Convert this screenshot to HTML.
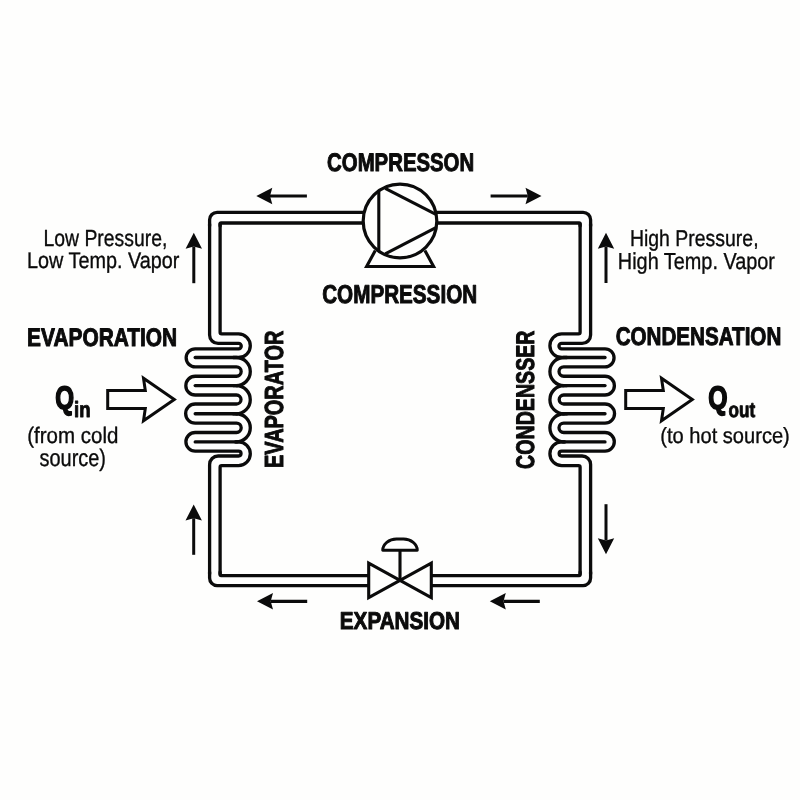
<!DOCTYPE html>
<html lang="en"><head><meta charset="utf-8"><title>Refrigeration cycle</title>
<style>
html,body{margin:0;padding:0;background:#fefefd;}
body{width:800px;height:800px;overflow:hidden;}
svg{display:block;will-change:transform;}
text{font-family:"Liberation Sans",sans-serif;fill:#0b0b0b;stroke:#0b0b0b;stroke-linejoin:round;text-rendering:geometricPrecision;}
.w{fill:none;stroke:#0b0b0b;stroke-width:3.3;stroke-linecap:round;stroke-linejoin:round;}
.m{fill:none;stroke:#0b0b0b;stroke-width:3.1;stroke-linecap:round;stroke-linejoin:miter;}
</style></head><body>
<svg width="800" height="800" viewBox="0 0 800 800">
<rect width="800" height="800" fill="#fefefd"/>

<g class="w">
<path d="M364 212.3 H217.1 A7.5 7.5 0 0 0 209.6 219.8 V226"/>
<path d="M364 223.0 H221.1 A1.0 1.0 0 0 0 220.1 224.0 V226"/>
<path d="M437 212.3 H583.1 A7.5 7.5 0 0 1 590.6 219.8 V226"/>
<path d="M437 223.0 H579.1 A1.0 1.0 0 0 1 580.1 224.0 V226"/>
<path d="M209.6 572 V578.1 A7.5 7.5 0 0 0 217.1 585.6 H368"/>
<path d="M220.1 572 V574.6 A1.0 1.0 0 0 0 221.1 575.6 H368"/>
<path d="M590.6 572 V578.1 A7.5 7.5 0 0 1 583.1 585.6 H432"/>
<path d="M580.1 572 V574.6 A1.0 1.0 0 0 1 579.1 575.6 H432"/>
</g>
<g class="w" id="evap">
<path d="M209.6 224 V334.95 A8.5 8.5 0 0 0 218.1 343.45 H238.6 A2.6750000000000114 2.6750000000000114 0 0 1 238.6 348.8 H195.2 A9.049999999999983 9.049999999999983 0 0 0 195.2 366.9 H236.5 A4.675000000000011 4.675000000000011 0 0 1 236.5 376.25 H195.2 A9.375 9.375 0 0 0 195.2 395.0 H236.5 A4.5 4.5 0 0 1 236.5 404.0 H195.2 A9.550000000000011 9.550000000000011 0 0 0 195.2 423.1 H236.5 A4.699999999999989 4.699999999999989 0 0 1 236.5 432.5 H195.2 A9.300000000000011 9.300000000000011 0 0 0 195.2 451.1 H238.6 A2.4499999999999886 2.4499999999999886 0 0 1 238.6 456.0 H218.1 A8.5 8.5 0 0 0 209.6 464.5 V574"/>
<path d="M220.1 224 V332.29999999999995 A1.6 1.6 0 0 0 221.7 333.9 H238.5 A11.800000000000011 11.800000000000011 0 0 1 238.5 357.5 "/>
<path d="M233.25 357.5 H236.25 A14.050000000000011 14.050000000000011 0 0 1 236.25 385.6"/>
<path d="M233.22500000000002 385.6 H236.22500000000002 A14.074999999999989 14.074999999999989 0 0 1 236.22500000000002 413.75"/>
<path d="M233.22500000000002 413.75 H236.22500000000002 A14.074999999999989 14.074999999999989 0 0 1 236.22500000000002 441.9"/>
<path d="M235.45 441.9 H238.45 A11.850000000000023 11.850000000000023 0 0 1 238.45 465.6 H221.7 A1.6 1.6 0 0 0 220.1 467.20000000000005 V574"/>
<path d="M195.2 357.5 H237.5"/>
<path d="M195.2 385.6 H237.5"/>
<path d="M195.2 413.75 H237.5"/>
<path d="M195.2 441.9 H237.5"/>
</g>
<g class="w" id="cond" transform="translate(800.2 0) scale(-1 1)">
<path d="M209.6 224 V334.95 A8.5 8.5 0 0 0 218.1 343.45 H238.6 A2.6750000000000114 2.6750000000000114 0 0 1 238.6 348.8 H195.2 A9.049999999999983 9.049999999999983 0 0 0 195.2 366.9 H236.5 A4.675000000000011 4.675000000000011 0 0 1 236.5 376.25 H195.2 A9.375 9.375 0 0 0 195.2 395.0 H236.5 A4.5 4.5 0 0 1 236.5 404.0 H195.2 A9.550000000000011 9.550000000000011 0 0 0 195.2 423.1 H236.5 A4.699999999999989 4.699999999999989 0 0 1 236.5 432.5 H195.2 A9.300000000000011 9.300000000000011 0 0 0 195.2 451.1 H238.6 A2.4499999999999886 2.4499999999999886 0 0 1 238.6 456.0 H218.1 A8.5 8.5 0 0 0 209.6 464.5 V574"/>
<path d="M220.1 224 V332.29999999999995 A1.6 1.6 0 0 0 221.7 333.9 H238.5 A11.800000000000011 11.800000000000011 0 0 1 238.5 357.5 "/>
<path d="M233.25 357.5 H236.25 A14.050000000000011 14.050000000000011 0 0 1 236.25 385.6"/>
<path d="M233.22500000000002 385.6 H236.22500000000002 A14.074999999999989 14.074999999999989 0 0 1 236.22500000000002 413.75"/>
<path d="M233.22500000000002 413.75 H236.22500000000002 A14.074999999999989 14.074999999999989 0 0 1 236.22500000000002 441.9"/>
<path d="M235.45 441.9 H238.45 A11.850000000000023 11.850000000000023 0 0 1 238.45 465.6 H221.7 A1.6 1.6 0 0 0 220.1 467.20000000000005 V574"/>
<path d="M195.2 357.5 H237.5"/>
<path d="M195.2 385.6 H237.5"/>
<path d="M195.2 413.75 H237.5"/>
<path d="M195.2 441.9 H237.5"/>
</g>
<circle cx="400" cy="221" r="36.8" fill="#fefefd" stroke="#0b0b0b" stroke-width="3.2"/>
<g class="m" style="stroke-linecap:butt">
<path d="M378.8 191 V251"/>
<path d="M385.2 188.3 L436.4 214.7"/>
<path d="M385.2 253.8 L436.4 227.4"/>
<path d="M375.3 250.5 L366.6 266.5 H433.6 L424.9 250.5" style="stroke-linejoin:miter"/>
</g>
<path d="M368.7 563.2 V597.6 L431.3 563.2 V597.6 Z" fill="#fefefd" stroke="#0b0b0b" stroke-width="3.1" stroke-linejoin="miter"/>
<path d="M400 580 V550" class="m" style="stroke-linecap:butt"/>
<path d="M382.7 550.2 C382.7 544 389 539 396.5 539 H403.5 C411 539 417.3 544 417.3 550.2 Z" fill="#fefefd" stroke="#0b0b0b" stroke-width="2.9" stroke-linejoin="round"/>
<line x1="306.9" y1="196" x2="270.00" y2="196.00" stroke="#0b0b0b" stroke-width="3.2"/><polygon points="256.30,196.00 272.30,187.80 270.00,196.00 272.30,204.20" fill="#0b0b0b"/>
<line x1="490.6" y1="196" x2="527.80" y2="196.00" stroke="#0b0b0b" stroke-width="3.2"/><polygon points="541.50,196.00 525.50,204.20 527.80,196.00 525.50,187.80" fill="#0b0b0b"/>
<line x1="307.2" y1="601.3" x2="270.70" y2="601.30" stroke="#0b0b0b" stroke-width="3.2"/><polygon points="257.00,601.30 273.00,593.10 270.70,601.30 273.00,609.50" fill="#0b0b0b"/>
<line x1="539.8" y1="601.3" x2="503.50" y2="601.30" stroke="#0b0b0b" stroke-width="3.2"/><polygon points="489.80,601.30 505.80,593.10 503.50,601.30 505.80,609.50" fill="#0b0b0b"/>
<line x1="193.8" y1="283.2" x2="193.80" y2="246.50" stroke="#0b0b0b" stroke-width="3.0"/><polygon points="193.80,232.80 202.00,248.80 193.80,246.50 185.60,248.80" fill="#0b0b0b"/>
<line x1="193.7" y1="554.8" x2="193.70" y2="518.20" stroke="#0b0b0b" stroke-width="3.0"/><polygon points="193.70,504.50 201.90,520.50 193.70,518.20 185.50,520.50" fill="#0b0b0b"/>
<line x1="606" y1="283" x2="606.00" y2="246.40" stroke="#0b0b0b" stroke-width="3.0"/><polygon points="606.00,232.70 614.20,248.70 606.00,246.40 597.80,248.70" fill="#0b0b0b"/>
<line x1="606" y1="504.2" x2="606.00" y2="540.50" stroke="#0b0b0b" stroke-width="3.0"/><polygon points="606.00,554.20 597.80,538.20 606.00,540.50 614.20,538.20" fill="#0b0b0b"/>
<path d="M107.7 390.6 H145.3 L143.5 378.2 L174.3 399.5 L143.5 420.8 L145.3 408.4 H107.7 Z" fill="#fefefd" stroke="#0b0b0b" stroke-width="3.0" stroke-linejoin="miter" stroke-miterlimit="10"/>
<path d="M625.7 390.6 H663.3 L661.5 378.2 L692.3 399.5 L661.5 420.8 L663.3 408.4 H625.7 Z" fill="#fefefd" stroke="#0b0b0b" stroke-width="3.0" stroke-linejoin="miter" stroke-miterlimit="10"/>
<text x="327.12" y="171.2" font-size="25.4" font-weight="700" stroke-width="1.0" textLength="147.05" lengthAdjust="spacingAndGlyphs" text-anchor="start" >COMPRESSON</text>
<text x="322.21" y="302.5" font-size="25.9" font-weight="700" stroke-width="1.0" textLength="154.92" lengthAdjust="spacingAndGlyphs" text-anchor="start" >COMPRESSION</text>
<text x="27.12" y="345.5" font-size="25.4" font-weight="700" stroke-width="1.0" textLength="150.1" lengthAdjust="spacingAndGlyphs" text-anchor="start" >EVAPORATION</text>
<text x="615.65" y="345.2" font-size="25.4" font-weight="700" stroke-width="1.0" textLength="165.65" lengthAdjust="spacingAndGlyphs" text-anchor="start" >CONDENSATION</text>
<text x="339.85" y="629" font-size="24.5" font-weight="700" stroke-width="1.0" textLength="120.12" lengthAdjust="spacingAndGlyphs" text-anchor="start" >EXPANSION</text>
<text x="0" y="0" font-size="26.2" font-weight="700" stroke-width="1.0" textLength="137.37" lengthAdjust="spacingAndGlyphs" text-anchor="start" transform="translate(283.0 467.97) rotate(-90)">EVAPORATOR</text>
<text x="0" y="0" font-size="25.5" font-weight="700" stroke-width="1.0" textLength="138.47" lengthAdjust="spacingAndGlyphs" text-anchor="start" transform="translate(533.8 468.97) rotate(-90)">CONDENSSER</text>
<text x="43.44" y="245.75" font-size="23.2" font-weight="400" stroke-width="0.35" textLength="123.93" lengthAdjust="spacingAndGlyphs" text-anchor="start" >Low Pressure,</text>
<text x="27.03" y="268.25" font-size="22.7" font-weight="400" stroke-width="0.35" textLength="152.27" lengthAdjust="spacingAndGlyphs" text-anchor="start" >Low Temp. Vapor</text>
<text x="629.94" y="245.5" font-size="22.9" font-weight="400" stroke-width="0.35" textLength="128.63" lengthAdjust="spacingAndGlyphs" text-anchor="start" >High Pressure,</text>
<text x="617.83" y="268.5" font-size="23.1" font-weight="400" stroke-width="0.35" textLength="157.14" lengthAdjust="spacingAndGlyphs" text-anchor="start" >High Temp. Vapor</text>
<text x="55.13" y="408.5" font-size="32.6" font-weight="700" stroke-width="1.7" textLength="18.81" lengthAdjust="spacingAndGlyphs" text-anchor="start" >Q</text>
<text x="74.02" y="417.4" font-size="22" font-weight="700" stroke-width="0.9" textLength="16.53" lengthAdjust="spacingAndGlyphs" text-anchor="start" >in</text>
<text x="27.27" y="443.1" font-size="22.5" font-weight="400" stroke-width="0.35" textLength="91.13" lengthAdjust="spacingAndGlyphs" text-anchor="start" >(from cold</text>
<text x="39.54" y="466.2" font-size="24" font-weight="400" stroke-width="0.35" textLength="66.44" lengthAdjust="spacingAndGlyphs" text-anchor="start" >source)</text>
<text x="708.27" y="408.5" font-size="32.6" font-weight="700" stroke-width="1.7" textLength="19.26" lengthAdjust="spacingAndGlyphs" text-anchor="start" >Q</text>
<text x="728.62" y="417.25" font-size="21.2" font-weight="700" stroke-width="0.9" textLength="26.59" lengthAdjust="spacingAndGlyphs" text-anchor="start" >out</text>
<text x="660.33" y="442.75" font-size="22" font-weight="400" stroke-width="0.35" textLength="129.46" lengthAdjust="spacingAndGlyphs" text-anchor="start" >(to hot source)</text>
</svg></body></html>
